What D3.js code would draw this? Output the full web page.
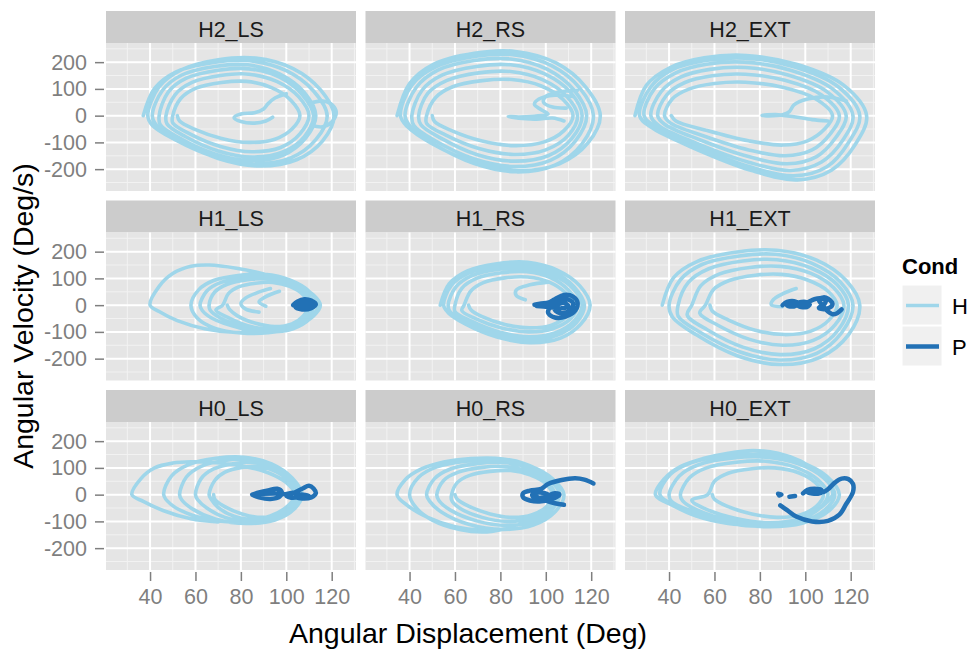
<!DOCTYPE html>
<html>
<head>
<meta charset="utf-8">
<script src="https://cdn.jsdelivr.net/npm/d3@7"></script>
<style>
  body { margin: 0; background: #ffffff; }
  text { font-family: "Liberation Sans", Arial, Helvetica, sans-serif; }
</style>
</head>
<body>
<svg id="chart" width="974" height="650"></svg>
<script>
// ---- facet levels, legend and axes ----
const rowLevels = ["H2", "H1", "H0"];
const colLevels = ["LS", "RS", "EXT"];
const condLevels = ["H", "P"];
const condColors = ["#9fd6ea", "#2271b5"];
const xTicks = [40, 60, 80, 100, 120];
const yTicks = [-200, -100, 0, 100, 200];
const xMinor = [30, 50, 70, 90, 110, 130];
const yMinor = [-250, -150, -50, 50, 150, 250];
const xDomain = [20.6, 130.7];
const yDomain = [-281.7, 271.6];
const xTitle = "Angular Displacement (Deg)";
const yTitle = "Angular Velocity (Deg/s)";
const legendTitle = "Cond";

// ---- phase trajectories: [angular displacement, angular velocity] ----
const h2_ls_H = [
  [[37,0],[42,102],[51.5,164],[68,199],[84,205],[100,168],[112,92],[118,0],[113,-90],[102,-158],[85.5,-180],[68,-153],[51,-90],[41,-36],
   [39,0],[44,108],[54,172],[70,209],[86.5,215],[103,176],[115,97],[121,0],[116,-94],[104.5,-165],[88,-188],[70,-160],[53,-94],[43,-38],
   [41,0],[45.5,95],[54,152],[68.5,184],[83,190],[97,156],[108,86],[113,0],[108.5,-84],[98.5,-148],[84,-168],[68.5,-143],[53,-84],[44.5,-34],
   [44,0],[48,88],[56,140],[70,170],[83.5,175],[97,144],[107,79],[112,0],[108,-78],[98.5,-136],[85,-155],[70,-132],[55.5,-78],[47.5,-31],
   [47,0],[51,78],[58.5,124],[71,150],[83.5,155],[96,127],[105.5,70],[110,0],[106,-68],[97.5,-119],[85,-135],[71,-115],[57.5,-68],[50,-27],
   [50,0],[53.5,64],[60,102],[71.5,124],[82.5,128],[93.5,105],[102,58],[106,0],[102.5,-50],[95,-88],[83.5,-100],[71.5,-85],[59.5,-50],[53,-20],[52,0]],
  [[100,82],[95,66],[92,45],[90,25],[86,11],[80,6],[77,-8],[80,-22],[86,-28],[91,-20],[94,-6]],
  [[110,45],[116,55],[120,42],[122,12],[120,-24],[116,-42],[111,-36]]
];
const h2_ls_P = [];

const h2_rs_H = [
  [[34.5,0],[40,120],[50.5,192],[68.5,233],[86.5,240],[104.5,197],[117.5,108],[124,0],[118.5,-103],[106,-180],[88,-205],[68.5,-174],[49.5,-103],[39,-41],
   [36,0],[41,114],[51.5,182],[68.5,221],[85.5,228],[102.5,187],[115,103],[121,0],[116,-105],[104,-185],[87,-210],[68.5,-179],[50.5,-105],[40.5,-42],
   [38,0],[43,106],[52.5,170],[68.5,206],[84.5,212],[100.5,174],[112.5,95],[118,0],[113,-95],[102,-167],[86,-190],[68.5,-162],[51.5,-95],[42,-38],
   [41,0],[45.5,95],[54.5,152],[69.5,184],[84.5,190],[99.5,156],[111,86],[116,0],[111.5,-85],[101,-150],[86,-170],[69.5,-145],[54,-85],[45,-34],
   [44,0],[48,83],[56.5,132],[70.5,160],[84.5,165],[98.5,135],[109,74],[114,0],[110,-73],[100,-128],[86,-145],[70.5,-123],[56,-73],[47.5,-29],
   [47.5,0],[51.5,68],[59,108],[72,131],[85,135],[98,111],[107.5,61],[112,0],[108,-56],[99,-99],[86,-112],[72,-95],[58.5,-56],[51,-22],[50,0]],
  [[112,72],[104,76],[97,62],[95,42],[98,22],[101,6],[95,-2],[88,-5],[83.5,-3],[88,-10],[96,-13],[103,-9],[108,-20]],
  [[114,95],[106,88],[100,72],[99,50],[103,32],[109,28]]
];
const h2_rs_P = [];

const h2_ext_H = [
  [[25,0],[30,113],[40.5,180],[55.5,216],[74,225],[96.5,191],[117,113],[127,0],[122,-108],[111.5,-204],[96.5,-240],[76,-204],[50.5,-120],[32,-43],
   [27,0],[32,108],[41.5,172],[56,206],[73.5,215],[95,183],[114.5,108],[124,0],[119,-101],[109.5,-191],[95,-225],[75.5,-191],[51.5,-113],[34,-41],
   [29,0],[33.5,100],[43,160],[56.5,192],[73,200],[93.5,170],[112,100],[121,0],[116.5,-92],[107,-174],[93.5,-205],[75,-174],[52,-103],[35.5,-37],
   [32,0],[36.5,90],[45,144],[58,173],[73.5,180],[92,153],[109.5,90],[118,0],[113.5,-81],[105,-153],[92,-180],[75,-153],[53.5,-90],[38,-32],
   [35,0],[39,78],[47,124],[59,149],[73.5,155],[91,132],[107,78],[115,0],[111,-68],[103,-128],[91,-150],[75,-128],[55,-75],[40.5,-27],
   [38,0],[41.5,63],[49,100],[60,120],[73.5,125],[90,106],[104.5,63],[112,0],[108.5,-50],[101,-94],[90,-110],[75,-94],[56.5,-55],[43,-20],[41,0]],
  [[118,55],[110,70],[101,62],[95,40],[93,15],[90,3],[84,-1],[81,1],[87,4],[95,-4],[103,-15],[110,-20]]
];
const h2_ext_P = [];

const h1_ls_H = [
  [[90,-95],[78,-102],[64,-88],[52,-58],[44,-24],[40,0],[44,70],[50,118],[58,145],[66,150],[78,138],[92,112],[104,78],[112,38],[115,0],
   [112,-40],[104,-80],[92,-103],[80,-104],[69,-88],[61,-50],[58,0],
   [61.5,58],[68,92],[79.5,112],[90.5,115],[101.5,94],[110,52],[114,0],[110.5,-50],[103,-88],[91.5,-100],[79.5,-85],[67.5,-50],[63,-20],
   [62,0],[65,53],[71,84],[81,102],[91,105],[101,86],[108.5,47],[112,0],[109,-48],[102,-84],[92,-95],[81,-81],[71,-48],[66.5,-19],
   [66,0],[68.5,49],[74,78],[83,95],[92,98],[101,80],[108,44],[111,0],[108.5,-45],[102,-79],[93,-90],[83,-77],[74,-45],[69,-18],
   [72,0],[74.5,43],[79,68],[86.5,82],[94,85],[101.5,70],[107.5,38],[110,0],[107.5,-40],[102.5,-70],[95,-80],[86.5,-68],[78.5,-40],[75,-16],[74,0]],
  [[93,62],[87,46],[82,26],[80,6],[82,-14],[88,-26]],
  [[97,52],[91,32],[88,12],[91,-4]]
];
const h1_ls_P = [
  [[103,0],[105,14],[108,22],[111,17],[113,3],[111,-11],[107,-16],[104,-6],[105,8],[108,17],[111,12],[112,-2],[109,-13],[106,-10],[104,4],
   [107,19],[110,14],[111,0],[108,-11],[105,-4],[107,6],[110,4]]
];

const h1_rs_H = [
  [[53.5,0],[57.5,80],[65.5,128],[78.5,155],[92,160],[105,131],[115,72],[119.5,0],[115.5,-70],[106.5,-123],[93,-140],[78.5,-119],[64.5,-70],[57,-28],
   [55,0],[58.5,75],[66,120],[78.5,146],[91,150],[103.5,123],[112.5,68],[117,0],[113.5,-65],[104.5,-114],[92,-130],[78.5,-111],[65.5,-65],[58,-26],
   [57,0],[60.5,69],[67.5,110],[79.5,134],[91,138],[103,113],[112,62],[116,0],[112.5,-59],[104,-104],[92.5,-118],[79.5,-100],[67,-59],[60,-24],
   [60,0],[63,63],[69.5,100],[80.5,121],[91.5,125],[102,103],[110,56],[114,0],[111,-50],[103,-88],[92.5,-100],[80.5,-85],[69,-50],[63,-20],
   [64,0],[67,53],[72.5,84],[82,102],[92,105],[101.5,86],[108.5,47],[112,0],[109,-43],[102.5,-75],[93,-85],[82,-72],[72,-43],[67,-17],[66,0]],
  [[101,86],[93,76],[87,57],[87,36],[91,20]]
];
const h1_rs_P = [
  [[95,2],[98,6],[101,9],[104,22],[108,38],[112,32],[114,10],[113,-20],[109,-42],[104,-46],[101,-28],[102,-6],[105,14],[109,22],[112,8],
   [111,-16],[107,-30],[104,-18],[105,0],[108,8],[110,-4],[107,-12],[101,-7],[96,-3]]
];

const h1_ext_H = [
  [[37,0],[42,103],[52.5,164],[70,199],[87.5,205],[105,168],[118,92],[124,0],[119,-111],[106.5,-195],[89,-222],[70,-189],[52,-111],[41.5,-44],
   [40,0],[45,95],[54.5,152],[71,184],[87,190],[103,156],[115.5,86],[121,0],[116,-103],[105,-180],[88.5,-205],[71,-174],[54,-103],[44,-41],
   [44,0],[48.5,85],[57.5,136],[72.5,165],[87.5,170],[102.5,139],[114,77],[119,0],[114.5,-93],[104,-163],[89,-185],[72.5,-157],[57,-93],[48,-37],
   [50,0],[54,73],[62,116],[75.5,141],[89,145],[102.5,119],[112.5,65],[117,0],[113,-75],[103.5,-132],[90,-150],[75.5,-128],[61.5,-75],[53.5,-30],
   [56,0],[59.5,58],[66.5,92],[78,112],[89.5,115],[101,94],[110,52],[114,0],[110.5,-55],[102.5,-97],[91,-110],[78,-94],[66,-55],[59,-22],[58,0]],
  [[96,62],[90,42],[86,21],[85,2],[90,-6]]
];
const h1_ext_P = [
  [[90,0],[92,12],[95,15],[97,5],[95,-5],[92,-2],[96,8],[100,12],[102,2],[100,-8],[97,-3],[101,10],[104,22],[107,25],[109,15],[108,0],
   [106,-10],[108,-15],[111,-8],[112,5],[110,24],[108,29],[106,20],[108,-5],[110,-24],[112,-34],[114,-30],[116,-16]]
];

const h0_ls_H = [
  [[70,-102],[58,-90],[46,-60],[37,-25],[32,0],[36,60],[42,100],[50,118],[58,123],[68,120],[80,108],[92,82],[100,45],[104,0],
   [101,-40],[93,-80],[82,-100],[70,-98],[58,-75],[49,-35],[46,0],
   [49.5,70],[57,112],[69,136],[81.5,140],[93.5,115],[102.5,63],[107,0],[103.5,-54],[95,-95],[82.5,-108],[69,-92],[59,-55],[54,-20],
   [53,0],[56,66],[62.5,106],[73,128],[83.5,132],[94.5,108],[102.5,59],[106,0],[103,-50],[95.5,-88],[85,-100],[73,-85],[65,-50],[61,-19],
   [60,0],[62.5,60],[68,96],[77,116],[86,120],[95,98],[102,54],[105,0],[102.5,-48],[96,-84],[87,-95],[77,-81],[70,-48],[67,-18],
   [66,0],[68.5,53],[73,84],[80.5,102],[88,105],[95.5,86],[101.5,47],[104,0],[101.5,-43],[96.5,-75],[89,-85],[80.5,-72],[72.5,-43],[68.5,-17],[68,0]]
];
const h0_ls_P = [
  [[85,0],[88,8],[92,16],[96,22],[98,10],[97,-8],[93,-16],[88,-10],[85,0],[90,3],[96,4],[100,2],[104,8],[106,-4],[103,-12],[100,-4],
   [103,6],[107,22],[110,33],[112,23],[113,5],[111,-10],[107,-14],[104,-8],[106,0],[110,-5],[108,-12]]
];

const h0_rs_H = [
  [[74,-135],[60,-120],[48,-85],[39,-40],[34.5,0],[38,55],[45,95],[55,122],[67,135],[78,136],[90,118],[100,75],[105,30],[106,0],
   [104,-35],[97,-80],[86,-118],[74,-139],[62,-130],[50,-95],[43,-50],[40,0],
   [44,65],[52,104],[66,126],[79.5,130],[93,107],[103,59],[108,0],[104,-65],[94.5,-114],[81,-130],[66,-111],[54,-65],[49,-26],
   [47.5,0],[51,60],[58,96],[69.5,116],[81.5,120],[93,98],[102,54],[106,0],[102.5,-58],[94.5,-101],[82.5,-115],[69.5,-98],[58,-58],[53,-23],
   [52,0],[55,53],[61.5,84],[72,102],[82,105],[92.5,86],[100.5,47],[104,0],[101,-50],[93.5,-88],[83,-100],[72,-85],[62,-50],[58.5,-20],
   [58.5,0],[61,45],[66.5,72],[75.5,87],[84.5,90],[93,74],[100,41],[103,0],[100.5,-43],[94,-75],[85,-85],[75.5,-72],[66,-43],[61,-17],[60,0]]
];
const h0_rs_P = [
  [[121,42],[117,56],[113,61],[107,55],[101,40],[98,22],[93,15],[90,5],[90,-10],[93,-22],[98,-25],[102,-15],[101,0],[97,8],[94,0],
   [95,-12],[99,-10],[104,5],[106,0],[104,-12],[99,-18],[96,-8],[100,-22],[104,-32],[108,-38]]
];

const h0_ext_H = [
  [[80,-116],[66,-108],[52,-80],[42,-42],[34,0],[38,60],[45,105],[55,135],[66,155],[77,165],[88,155],[98,125],[106,80],[111,35],[112,0],
   [108,-40],[100,-80],[90,-108],[80,-118],[68,-110],[55,-85],[44,-45],[36,0],
   [40.5,75],[50,120],[66,146],[82,150],[97.5,123],[109.5,68],[115,0],[110.5,-60],[99,-106],[83.5,-120],[66,-102],[49.5,-60],[41,-24],
   [40,0],[44.5,70],[53,112],[67.5,136],[82.5,140],[97,115],[108,63],[113,0],[108.5,-58],[98.5,-101],[84,-115],[67.5,-98],[52.5,-58],[46,-23],
   [45,0],[49,63],[56.5,100],[69.5,121],[82.5,125],[95.5,103],[105.5,56],[110,0],[106,-53],[97,-92],[84,-105],[69.5,-89],[56,-53],[50,-21],
   [57,0],[60,50],[66,80],[76.5,97],[86.5,100],[97,82],[104.5,45],[108,0],[105,-43],[98,-75],[87.5,-85],[76.5,-72],[65.5,-43],[60,-17],[59,0]]
];
const h0_ext_P = [
  [[88,3],[89.5,0],[88.5,-3]],
  [[93,-8],[95.5,-5]],
  [[99,5],[101,18],[104,22],[107,18],[107,8],[103,4],[101,10],[104,14],[108,10],[110,20],[113,45],[116,60],[119,58],[121,40],[121,10],
   [118,-35],[115,-75],[110,-98],[103,-100],[96,-82],[92,-58],[89,-40]]
];

// facet table assembled from the arrays above
const facets = [
  { row: "H2", col: "LS",  H: h2_ls_H,  P: h2_ls_P },
  { row: "H2", col: "RS",  H: h2_rs_H,  P: h2_rs_P },
  { row: "H2", col: "EXT", H: h2_ext_H, P: h2_ext_P },
  { row: "H1", col: "LS",  H: h1_ls_H,  P: h1_ls_P },
  { row: "H1", col: "RS",  H: h1_rs_H,  P: h1_rs_P },
  { row: "H1", col: "EXT", H: h1_ext_H, P: h1_ext_P },
  { row: "H0", col: "LS",  H: h0_ls_H,  P: h0_ls_P },
  { row: "H0", col: "RS",  H: h0_rs_H,  P: h0_rs_P },
  { row: "H0", col: "EXT", H: h0_ext_H, P: h0_ext_P }
];

// ---- layout ----
const panelLefts = [106, 365.5, 625];
const stripTops = [11, 200.5, 390];
const panelW = 250, stripH = 32, panelH = 148;
const tickColor = "#7f7f7f";
const lineWidths = [3.6, 4.5];

const svg = d3.select("#chart");
const x = d3.scaleLinear().domain(xDomain).range([0, panelW]);
const y = d3.scaleLinear().domain(yDomain).range([panelH, 0]);
const path = d3.line()
  .x(d => x(d[0]))
  .y(d => y(d[1]))
  .curve(d3.curveCatmullRom.alpha(0.5));

facets.forEach((f, i) => {
  const ci = colLevels.indexOf(f.col);
  const ri = rowLevels.indexOf(f.row);
  const left = panelLefts[ci];
  const top = stripTops[ri] + stripH;

  // strip
  svg.append("rect")
    .attr("x", left).attr("y", stripTops[ri])
    .attr("width", panelW).attr("height", stripH)
    .attr("fill", "#cccccc");
  svg.append("text")
    .attr("x", left + panelW / 2).attr("y", stripTops[ri] + 25.5)
    .attr("text-anchor", "middle")
    .attr("font-size", 21.5)
    .attr("fill", "#1a1a1a")
    .text(f.row + "_" + f.col);

  const g = svg.append("g").attr("transform", `translate(${left},${top})`);
  g.append("rect").attr("width", panelW).attr("height", panelH).attr("fill", "#e5e5e5");

  // grid
  g.selectAll(".xminor").data(xMinor).join("line")
    .attr("x1", d => x(d)).attr("x2", d => x(d)).attr("y1", 0).attr("y2", panelH)
    .attr("stroke", "#f2f2f2").attr("stroke-width", 1);
  g.selectAll(".yminor").data(yMinor).join("line")
    .attr("y1", d => y(d)).attr("y2", d => y(d)).attr("x1", 0).attr("x2", panelW)
    .attr("stroke", "#f2f2f2").attr("stroke-width", 1);
  g.selectAll(".xmajor").data(xTicks).join("line")
    .attr("x1", d => x(d)).attr("x2", d => x(d)).attr("y1", 0).attr("y2", panelH)
    .attr("stroke", "#ffffff").attr("stroke-width", 2);
  g.selectAll(".ymajor").data(yTicks).join("line")
    .attr("y1", d => y(d)).attr("y2", d => y(d)).attr("x1", 0).attr("x2", panelW)
    .attr("stroke", "#ffffff").attr("stroke-width", 2);

  // clip and traces
  const clipId = "clip" + i;
  g.append("clipPath").attr("id", clipId)
    .append("rect").attr("width", panelW).attr("height", panelH);
  const traces = g.append("g").attr("clip-path", `url(#${clipId})`);
  condLevels.forEach((c, k) => {
    traces.selectAll(".cond" + c).data(f[c]).join("path")
      .attr("d", d => path(d))
      .attr("fill", "none")
      .attr("stroke", condColors[k])
      .attr("stroke-width", lineWidths[k])
      .attr("stroke-linejoin", "round")
      .attr("stroke-linecap", "round");
  });

  // y axis on first column
  if (ci === 0) {
    const ya = svg.append("g")
      .attr("transform", `translate(${left - 2},${top})`)
      .call(d3.axisLeft(y).tickValues(yTicks).tickSize(9).tickPadding(8).tickFormat(d => String(d)));
    ya.select(".domain").remove();
    ya.selectAll("line").attr("stroke", tickColor).attr("stroke-width", 1.5);
    ya.selectAll("text").attr("fill", tickColor).attr("font-size", 21.5)
      .attr("font-family", "Liberation Sans, Arial, sans-serif");
  }
  // x axis on bottom row
  if (ri === rowLevels.length - 1) {
    const xa = svg.append("g")
      .attr("transform", `translate(${left},${top + panelH + 2})`)
      .call(d3.axisBottom(x).tickValues(xTicks).tickSize(9).tickPadding(7.5).tickFormat(d => String(d)));
    xa.select(".domain").remove();
    xa.selectAll("line").attr("stroke", tickColor).attr("stroke-width", 1.5);
    xa.selectAll("text").attr("fill", tickColor).attr("font-size", 21.5)
      .attr("font-family", "Liberation Sans, Arial, sans-serif");
  }
});

// axis titles
svg.append("text")
  .attr("x", 468).attr("y", 643)
  .attr("text-anchor", "middle")
  .attr("font-size", 28.5).attr("fill", "#000")
  .text(xTitle);
svg.append("text")
  .attr("transform", "translate(33,316) rotate(-90)")
  .attr("text-anchor", "middle")
  .attr("font-size", 28.5).attr("fill", "#000")
  .text(yTitle);

// legend
const legend = svg.append("g");
legend.append("text")
  .attr("x", 902).attr("y", 274)
  .attr("font-size", 22).attr("font-weight", "bold").attr("fill", "#000")
  .text(legendTitle);
condLevels.forEach((c, k) => {
  const ky = 285 + k * 41;
  legend.append("rect")
    .attr("x", 902).attr("y", ky).attr("width", 40).attr("height", 40)
    .attr("fill", "#f0f0f0").attr("stroke", "#ffffff").attr("stroke-width", 1);
  legend.append("line")
    .attr("x1", 906).attr("x2", 939).attr("y1", ky + 20.5).attr("y2", ky + 20.5)
    .attr("stroke", condColors[k]).attr("stroke-width", lineWidths[k]);
  legend.append("text")
    .attr("x", 952).attr("y", ky + 28.5)
    .attr("font-size", 22).attr("fill", "#000")
    .text(c);
});
</script>
</body>
</html>
